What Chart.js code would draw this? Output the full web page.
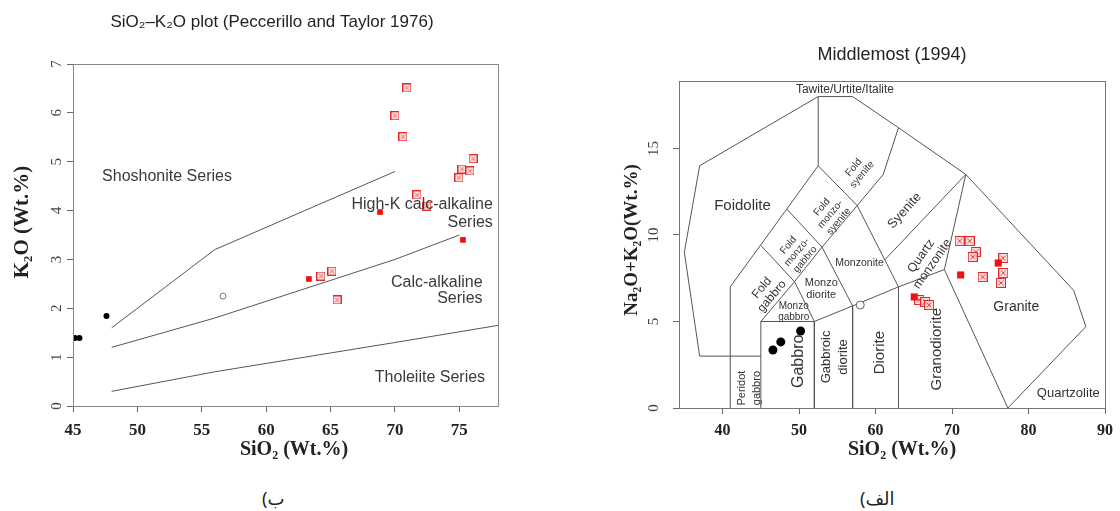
<!DOCTYPE html>
<html><head><meta charset="utf-8">
<script src="https://cdn.jsdelivr.net/npm/chart.js@4.4.0/dist/chart.umd.min.js"></script>
<style>
html,body{margin:0;padding:0;background:#fff;width:1120px;height:511px;overflow:hidden;position:relative}
#c1{position:absolute;left:0;top:0}
#c2{position:absolute;left:560px;top:0}
.cap{position:absolute;top:486px;font:18px "Noto Sans","DejaVu Sans",sans-serif;direction:rtl;color:#222;line-height:24px}
</style></head><body>
<canvas id="c1" width="560" height="470"></canvas>
<canvas id="c2" width="560" height="470"></canvas>
<div class="cap" style="left:262px">ب)</div>
<div class="cap" style="left:860px">الف)</div>
<script>
// ---------- Left panel: SiO2–K2O (Peccerillo and Taylor 1976) ----------
const ptXTicks = [45, 50, 55, 60, 65, 70, 75];
const ptYTicks = [0, 1, 2, 3, 4, 5, 6, 7];
const ptShoshoniteLine = [[48, 1.6], [56, 3.2], [70, 4.8]];
const ptHighKLine = [[48, 1.2], [56, 1.8], [63, 2.4], [70, 3.0], [75, 3.5]];
const ptTholeiiteLine = [[48, 0.3], [56, 0.7], [63, 1.0], [70, 1.3], [78, 1.65]];
const ptBlackSiO2 = [45.15, 45.5, 47.6];
const ptBlackK2O = [1.39, 1.39, 1.84];
const ptOpenSiO2 = [56.65];
const ptOpenK2O = [2.25];
const ptRedSiO2 = [68.84, 75.28, 63.32];
const ptRedK2O = [3.97, 3.40, 2.60];
const ptCrossSiO2 = [70.93, 70.00, 70.62, 76.06, 75.20, 75.82, 74.97, 71.71, 72.48, 65.11, 65.50, 64.25];
const ptCrossK2O = [6.51, 5.94, 5.51, 5.06, 4.85, 4.81, 4.67, 4.32, 4.09, 2.76, 2.17, 2.66];

// ---------- Right panel: TAS (Middlemost 1994) ----------
const tasXTicks = [40, 50, 60, 70, 80, 90];
const tasYTicks = [0, 5, 10, 15];
const tasOuter = [[41, 3], [37, 3], [35, 9], [37, 14], [52.5, 18], [57, 18], [63, 16.2], [71.8, 13.5], [85.9, 6.8], [87.5, 4.7], [77.3, 0]];
const tasFoidoliteEdge = [[41, 0], [41, 7], [52.5, 14], [52.5, 18]];
const tasPeridotTop = [[41, 3], [45, 3]];
const tasGabbroBox = [[45, 0], [45, 5], [52, 5], [52, 0]];
const tasFoidGabbroEdge = [[45, 9.4], [49.4, 7.3], [45, 5]];
const tasMonzoLine = [[49.4, 7.3], [52, 5], [57, 5.9], [63, 7], [69, 8], [77.3, 0]];
const tasFoidMonzoGabbroEdge = [[48.4, 11.5], [53, 9.3], [49.4, 7.3]];
const tasMonzodioriteEdge = [[53, 9.3], [57, 5.9], [57, 0]];
const tasFoidMonzoSyeniteEdge = [[52.5, 14], [57.6, 11.7], [53, 9.3]];
const tasMonzoniteEdge = [[57.6, 11.7], [63, 7], [63, 0]];
const tasFoidSyeniteEdge = [[57.6, 11.7], [61, 13.5], [63, 16.2]];
const tasSyeniteBase = [[61.2, 8.56], [71.8, 13.5], [69, 8]];
const tasBlackSiO2 = [46.58, 47.61, 50.2];
const tasBlackAlk = [3.35, 3.82, 4.45];
const tasOpenSiO2 = [58.0];
const tasOpenAlk = [5.95];
const tasRedSiO2 = [65.06, 71.13, 76.04];
const tasRedAlk = [6.42, 7.69, 8.38];
const tasCrossSiO2 = [65.7, 66.5, 67.0, 71.0, 72.3, 73.1, 72.7, 76.7, 76.7, 74.0, 76.4];
const tasCrossAlk = [6.24, 6.13, 5.95, 9.65, 9.65, 9.02, 8.73, 8.67, 7.80, 7.57, 7.23];

// ---------- helpers ----------
const toPts = (xs, ys) => xs.map((x, i) => ({x, y: ys[i]}));
const toLine = pairs => pairs.map(([x, y]) => ({x, y}));

function crossBox(size) {
  const c = document.createElement('canvas');
  c.width = c.height = size;
  const g = c.getContext('2d');
  g.fillStyle = 'rgba(252,212,212,0.8)';
  g.fillRect(0.5, 0.5, size - 1, size - 1);
  g.strokeStyle = '#e02a2a';
  g.lineWidth = 1;
  g.strokeRect(0.5, 0.5, size - 1, size - 1);
  g.beginPath();
  g.moveTo(2.5, 2.5); g.lineTo(size - 2.5, size - 2.5);
  g.moveTo(size - 2.5, 2.5); g.lineTo(2.5, size - 2.5);
  g.strokeStyle = '#e34a4a';
  g.stroke();
  return c;
}

function drawText(ctx, text, x, y, o) {
  ctx.save();
  ctx.translate(x, y);
  ctx.rotate((o.rot || 0) * Math.PI / 180);
  ctx.font = (o.weight || 'normal') + ' ' + o.size + 'px ' + (o.family || '"Liberation Sans", Arial, sans-serif');
  ctx.fillStyle = o.color || '#333';
  ctx.textAlign = o.align || 'center';
  ctx.textBaseline = 'middle';
  const lines = text.split('\n');
  const lh = o.size * (o.lh || 1.1);
  lines.forEach((l, i) => ctx.fillText(l, 0, (i - (lines.length - 1) / 2) * lh));
  ctx.restore();
}

const textPlugin = {
  id: 'texts',
  afterDatasetsDraw(chart, args, opts) {
    const ctx = chart.ctx, a = chart.chartArea;
    ctx.save();
    ctx.strokeStyle = opts.boxColor || '#777';
    ctx.lineWidth = 1;
    ctx.strokeRect(Math.round(a.left) + 0.5, Math.round(a.top) + 0.5, Math.round(a.right - a.left), Math.round(a.bottom - a.top));
    ctx.restore();
    const xs = chart.scales.x, ys = chart.scales.y;
    (opts.dataLabels || []).forEach(l => drawText(ctx, l.t, xs.getPixelForValue(l.x), ys.getPixelForValue(l.y), l));
    (opts.pixelLabels || []).forEach(l => drawText(ctx, l.t, l.px, l.py, l));
  }
};

const serif = '"Liberation Serif", "Times New Roman", serif';

function lineDS(pairs, color) {
  return {data: toLine(pairs), showLine: true, pointRadius: 0, borderColor: color, borderWidth: 1, fill: false, tension: 0};
}

function axes(o) {
  const common = (ticksArr, extra) => Object.assign({
    type: 'linear',
    grid: {display: true, drawOnChartArea: false, drawTicks: true, tickLength: 6, color: '#666'},
    border: {display: true, color: '#666'},
    afterBuildTicks: s => { s.ticks = ticksArr.map(v => ({value: v})); },
  }, extra);
  return {
    x: common(o.xt, {
      min: o.xmin, max: o.xmax,
      afterFit: s => { s.height = o.xh; },
      ticks: {font: {family: serif, size: o.xfs, weight: 'bold'}, color: '#222', padding: o.xpad, maxRotation: 0, autoSkip: false}
    }),
    y: common(o.yt, {
      min: o.ymin, max: o.ymax,
      afterFit: s => { s.width = o.yw; },
      ticks: {font: {family: serif, size: o.yfs}, color: '#444', padding: o.ypad, minRotation: 90, maxRotation: 90, crossAlign: 'center', autoSkip: false}
    })
  };
}

const baseOpts = {
  responsive: false, animation: false,
  events: [],
  plugins: {legend: {display: false}, tooltip: {enabled: false}, title: {display: false}}
};

// ---------- Left chart ----------
new Chart(document.getElementById('c1'), {
  type: 'scatter',
  data: {datasets: [
    {data: toPts(ptRedSiO2, ptRedK2O), pointStyle: 'rect', pointRadius: 4, backgroundColor: '#f01010', borderColor: '#f01010', borderWidth: 0},
    {data: toPts(ptCrossSiO2, ptCrossK2O), pointStyle: crossBox(9)},
    {data: toPts(ptOpenSiO2, ptOpenK2O), pointStyle: 'circle', pointRadius: 3, backgroundColor: '#fff', borderColor: '#777', borderWidth: 1},
    {data: toPts(ptBlackSiO2, ptBlackK2O), pointStyle: 'circle', pointRadius: 3, backgroundColor: '#000', borderColor: '#000', borderWidth: 0},
    lineDS(ptShoshoniteLine, '#555'),
    lineDS(ptHighKLine, '#555'),
    lineDS(ptTholeiiteLine, '#555')
  ]},
  options: Object.assign({}, baseOpts, {
    layout: {padding: {left: 0, right: 62, top: 64, bottom: 0}},
    scales: axes({xt: ptXTicks, yt: ptYTicks, xmin: 45, xmax: 78, ymin: 0, ymax: 7, xh: 64, yw: 73, xfs: 17, yfs: 15, xpad: 8, ypad: 6}),
    plugins: Object.assign({}, baseOpts.plugins, {
      texts: {
        boxColor: '#888',
        dataLabels: [
          {t: 'Shoshonite Series', x: 52.3, y: 4.69, size: 16, color: '#3a3a3a'},
          {t: 'High-K calc-alkaline', x: 77.6, y: 4.13, size: 16, align: 'right', color: '#3a3a3a'},
          {t: 'Series', x: 77.6, y: 3.75, size: 16, align: 'right', color: '#3a3a3a'},
          {t: 'Calc-alkaline', x: 76.8, y: 2.52, size: 16, align: 'right', color: '#3a3a3a'},
          {t: 'Series', x: 76.8, y: 2.19, size: 16, align: 'right', color: '#3a3a3a'},
          {t: 'Tholeiite Series', x: 77.0, y: 0.59, size: 16, align: 'right', color: '#3a3a3a'}
        ],
        pixelLabels: [
          {t: 'SiO₂–K₂O plot (Peccerillo and Taylor 1976)', px: 272, py: 22, size: 17, color: '#222'},
          {t: 'SiO₂ (Wt.%)', px: 294, py: 450, size: 20, weight: 'bold', family: serif, color: '#222'},
          {t: 'K₂O (Wt.%)', px: 23, py: 222, size: 21, weight: 'bold', family: serif, color: '#222', rot: -90}
        ]
      }
    })
  }),
  plugins: [textPlugin]
});

// ---------- Right chart ----------
new Chart(document.getElementById('c2'), {
  type: 'scatter',
  data: {datasets: [
    {data: toPts(tasRedSiO2, tasRedAlk), pointStyle: 'rect', pointRadius: 5, backgroundColor: '#f01010', borderColor: '#f01010', borderWidth: 0},
    {data: toPts(tasCrossSiO2, tasCrossAlk), pointStyle: crossBox(10)},
    {data: toPts(tasOpenSiO2, tasOpenAlk), pointStyle: 'circle', pointRadius: 4, backgroundColor: '#fff', borderColor: '#666', borderWidth: 1},
    {data: toPts(tasBlackSiO2, tasBlackAlk), pointStyle: 'circle', pointRadius: 4.5, backgroundColor: '#000', borderColor: '#000', borderWidth: 0},
    lineDS(tasOuter, '#555'),
    lineDS(tasFoidoliteEdge, '#555'),
    lineDS(tasPeridotTop, '#555'),
    lineDS(tasGabbroBox, '#555'),
    lineDS(tasFoidGabbroEdge, '#555'),
    lineDS(tasMonzoLine, '#555'),
    lineDS(tasFoidMonzoGabbroEdge, '#555'),
    lineDS(tasMonzodioriteEdge, '#555'),
    lineDS(tasFoidMonzoSyeniteEdge, '#555'),
    lineDS(tasMonzoniteEdge, '#555'),
    lineDS(tasFoidSyeniteEdge, '#555'),
    lineDS(tasSyeniteBase, '#555')
  ]},
  options: Object.assign({}, baseOpts, {
    layout: {padding: {left: 0, right: 10, top: 81, bottom: 0}},
    scales: axes({xt: tasXTicks, yt: tasYTicks, xmin: 34.3, xmax: 90, ymin: 0, ymax: 18.9, xh: 62, yw: 119, xfs: 16, yfs: 15, xpad: 7, ypad: 11}),
    plugins: Object.assign({}, baseOpts.plugins, {
      texts: {
        boxColor: '#777',
        dataLabels: [
          {t: 'Tawite/Urtite/Italite', x: 56.0, y: 18.4, size: 12},
          {t: 'Foidolite', x: 42.6, y: 11.7, size: 15},
          {t: 'Fold\nsyenite', x: 57.7, y: 13.7, size: 10, rot: -50},
          {t: 'Fold\nmonzo-\nsyenite', x: 54.1, y: 11.2, size: 10, rot: -50},
          {t: 'Fold\nmonzo-\ngabbro', x: 49.7, y: 9.0, size: 10, rot: -50},
          {t: 'Fold\ngabbro', x: 45.8, y: 6.7, size: 12, rot: -50},
          {t: 'Syenite', x: 63.8, y: 11.4, size: 13, rot: -48},
          {t: 'Quartz\nmonzonite', x: 66.7, y: 8.55, size: 12.5, rot: -55},
          {t: 'Monzonite', x: 57.9, y: 8.4, size: 10.5},
          {t: 'Monzo\ndiorite', x: 52.9, y: 6.9, size: 11},
          {t: 'Monzo\ngabbro', x: 49.3, y: 5.55, size: 10},
          {t: 'Gabbro', x: 49.9, y: 2.7, size: 16, rot: -90},
          {t: 'Gabbroic\ndiorite', x: 54.7, y: 2.95, size: 13, rot: -90, lh: 1.25},
          {t: 'Diorite', x: 60.5, y: 3.2, size: 15, rot: -90},
          {t: 'Granodiorite', x: 68.0, y: 3.4, size: 15, rot: -90},
          {t: 'Peridot\ngabbro', x: 43.5, y: 1.15, size: 11, rot: -90, lh: 1.3},
          {t: 'Granite', x: 78.4, y: 5.85, size: 14},
          {t: 'Quartzolite', x: 85.2, y: 0.87, size: 13}
        ],
        pixelLabels: [
          {t: 'Middlemost (1994)', px: 332, py: 55, size: 18, color: '#222'},
          {t: 'SiO₂ (Wt.%)', px: 342, py: 450, size: 20, weight: 'bold', family: serif, color: '#222'},
          {t: 'Na₂O+K₂O(Wt.%)', px: 72, py: 240, size: 19, weight: 'bold', family: serif, color: '#222', rot: -90}
        ]
      }
    })
  }),
  plugins: [textPlugin]
});
</script>
</body></html>
